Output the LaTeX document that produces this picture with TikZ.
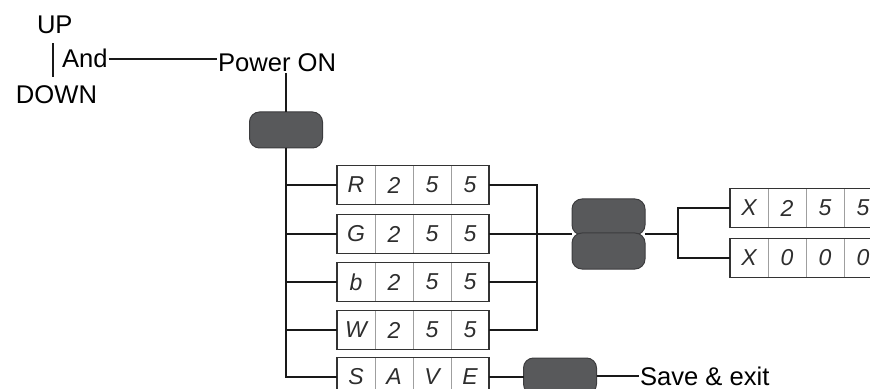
\documentclass[tikz,border=0pt]{standalone}
\usepackage{fontspec}
\setmainfont{Liberation Sans}
\usetikzlibrary{positioning}

\definecolor{keygray}{HTML}{58595B}
\definecolor{keyedge}{HTML}{3C3C3E}
\definecolor{segink}{HTML}{2E2E2E}

% one four-digit display: name, left-centre point, four characters
\newcommand{\segdisplay}[6]{%
  \node[cell,anchor=west] (#1-1) at (#2) {#3};
  \node[cell,right=0pt of #1-1] (#1-2) {#4};
  \node[cell,right=0pt of #1-2] (#1-3) {#5};
  \node[cell,right=0pt of #1-3] (#1-4) {#6};
  \draw[frame] (#1-1.north west) rectangle (#1-4.south east);
}

\begin{document}
\begin{tikzpicture}
[x=0.5pt,y=-0.5pt,%
  every node/.style={inner sep=0.5pt,outer sep=0pt},%
  label/.style={anchor=base west,font=\fontsize{12.8}{15}\selectfont},%
  key/.style={draw=keyedge,fill=keygray,line width=0.5pt,rounded corners=5pt,
    minimum width=36.5pt,minimum height=18pt},%
  cell/.style={draw=gray!75,line width=0.45pt,inner sep=0pt,
    minimum width=19pt,minimum height=19.5pt,text=segink,
    font=\fontsize{11.5}{13}\selectfont\itshape},%
  frame/.style={draw=black!80,line width=0.7pt},%
  wire/.style={line width=1.4pt,black!90},%
  thinwire/.style={line width=1pt,black!90}]
\useasboundingbox (0,0) rectangle (870,389);

\node[label] (up) at (36,34) {UP};
\node[label] (and) at (61,68) {And};
\node[label] (down) at (15,104) {DOWN};
\node[label] (power) at (217,72) {Power ON};
\draw[thinwire,shorten <=4pt,shorten >=4pt] ([xshift=-1pt]up.south) -- ([xshift=-1pt]up.south |- down.north);
\draw[thinwire] (and.east) -- (and.east -| power.west);

\node[key] (key1) at (286,130) {};
\draw[thinwire] (key1.north) -- (key1.north |- power.south);

\segdisplay{red}{337,185}{R}{2}{5}{5}
\segdisplay{green}{337,234}{G}{2}{5}{5}
\segdisplay{blue}{337,282}{b}{2}{5}{5}
\segdisplay{white}{337,330}{W}{2}{5}{5}
\segdisplay{save}{337,377}{S}{A}{V}{E}

\draw[wire] (key1.south) |- (red-1.west);
\draw[wire] (key1.south) |- (green-1.west);
\draw[wire] (key1.south) |- (blue-1.west);
\draw[wire] (key1.south) |- (white-1.west);
\draw[wire] (key1.south) |- (save-1.west);

\node[key] (keyup) at (608.5,217) {};
\node[key] (keydown) at (608.5,251) {};
\coordinate (join) at (537,234);
\coordinate (fork) at (678,234);
\draw[wire] (red-4.east) -| (join);
\draw[wire] (blue-4.east) -| (join);
\draw[wire] (white-4.east) -| (join);
\draw[wire] (green-4.east) -- (green-4.east -| keyup.west);

\segdisplay{full}{730,208}{X}{2}{5}{5}
\segdisplay{zero}{730,258}{X}{0}{0}{0}
\draw[wire] (keyup.east |- fork) -- (fork);
\draw[wire] (fork) |- (full-1.west);
\draw[wire] (fork) |- (zero-1.west);

\node[key] (key3) at (560,376) {};
\node[label] (exit) at (639,385) {Save \& exit};
\draw[wire] (save-4.east) -- (key3.west |- save-4.east);
\draw[thinwire] (key3.east) -- (exit.west |- key3.east);
\end{tikzpicture}
\end{document}
